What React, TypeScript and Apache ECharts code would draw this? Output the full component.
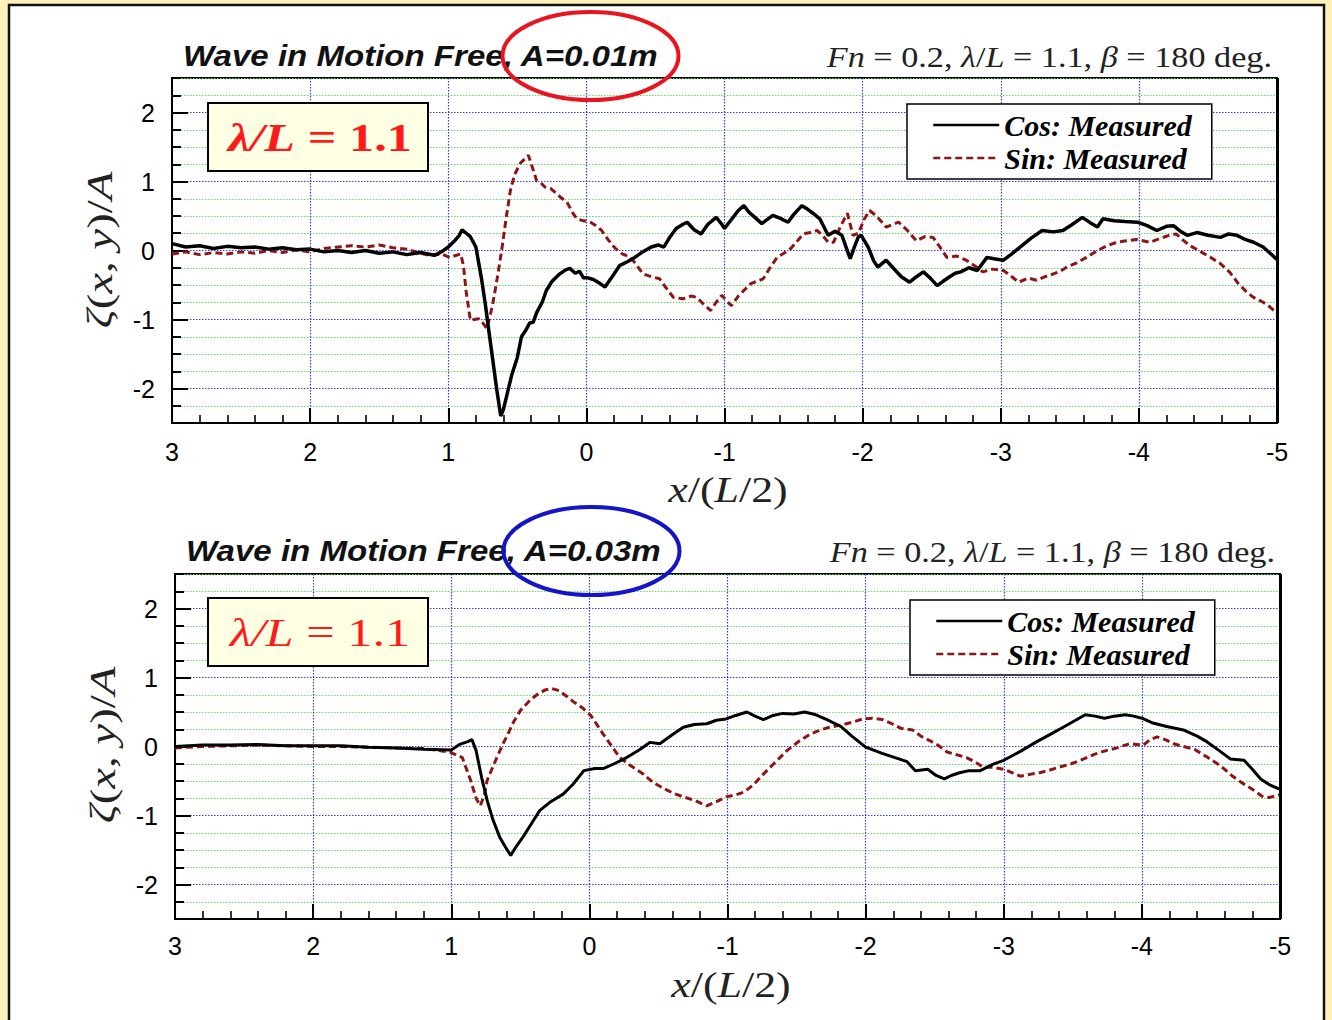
import React, { useEffect, useRef } from 'react';
import * as echarts from 'echarts';

const COS = 'Cos: Measured';
const SIN = 'Sin: Measured';

const titleTop = 'Wave in Motion Free, A=0.01m';
const titleBottom = 'Wave in Motion Free, A=0.03m';

// Top panel (A = 0.01 m): [x/(L/2), zeta/A]
const topCos: number[][] = [
  [3.0, 0.1], [2.9, 0.05], [2.8, 0.07], [2.7, 0.03], [2.6, 0.06], [2.5, 0.04], [2.4, 0.05], [2.3, 0.02],
  [2.2, 0.04], [2.1, 0.01], [2.0, 0.02], [1.9, -0.02], [1.8, 0.0], [1.7, -0.03], [1.6, 0.0], [1.5, -0.04],
  [1.4, -0.02], [1.3, -0.06], [1.2, -0.03], [1.1, -0.07], [1.05, -0.02], [1.0, 0.05], [0.95, 0.15],
  [0.92, 0.22], [0.9, 0.3], [0.87, 0.25], [0.84, 0.2], [0.8, 0.05], [0.76, -0.4], [0.73, -0.8],
  [0.71, -1.11], [0.68, -1.55], [0.65, -2.0], [0.62, -2.4], [0.6, -2.3], [0.57, -2.05], [0.54, -1.8],
  [0.5, -1.55], [0.47, -1.25], [0.44, -1.16], [0.41, -1.05], [0.385, -1.04], [0.36, -0.9], [0.32, -0.75],
  [0.29, -0.58], [0.25, -0.45], [0.2, -0.35], [0.15, -0.28], [0.12, -0.26], [0.08, -0.33], [0.05, -0.3],
  [0.02, -0.4], [0.0, -0.39], [-0.05, -0.42], [-0.1, -0.48], [-0.135, -0.53], [-0.18, -0.4], [-0.24, -0.22],
  [-0.3, -0.16], [-0.35, -0.1], [-0.4, -0.03], [-0.47, 0.05], [-0.52, 0.08], [-0.56, 0.05], [-0.6, 0.18],
  [-0.65, 0.32], [-0.7, 0.38], [-0.73, 0.41], [-0.78, 0.3], [-0.83, 0.24], [-0.88, 0.38], [-0.94, 0.48],
  [-0.98, 0.38], [-1.0, 0.32], [-1.05, 0.45], [-1.1, 0.58], [-1.14, 0.65], [-1.18, 0.55], [-1.22, 0.48],
  [-1.27, 0.39], [-1.31, 0.45], [-1.35, 0.51], [-1.4, 0.47], [-1.46, 0.41], [-1.5, 0.52], [-1.56, 0.65],
  [-1.6, 0.6], [-1.64, 0.54], [-1.69, 0.46], [-1.75, 0.22], [-1.8, 0.28], [-1.85, 0.22], [-1.88, 0.05],
  [-1.91, -0.12], [-1.94, 0.05], [-1.97, 0.2], [-1.99, 0.22], [-2.04, 0.05], [-2.08, -0.15], [-2.11, -0.24],
  [-2.17, -0.14], [-2.22, -0.25], [-2.28, -0.38], [-2.34, -0.46], [-2.39, -0.38], [-2.44, -0.31],
  [-2.49, -0.4], [-2.54, -0.51], [-2.58, -0.45], [-2.63, -0.38], [-2.67, -0.33], [-2.71, -0.31],
  [-2.77, -0.25], [-2.83, -0.29], [-2.9, -0.1], [-2.95, -0.12], [-3.02, -0.14], [-3.08, -0.05], [-3.14, 0.05],
  [-3.22, 0.18], [-3.3, 0.29], [-3.38, 0.27], [-3.45, 0.29], [-3.52, 0.38], [-3.59, 0.48], [-3.65, 0.4],
  [-3.7, 0.34], [-3.74, 0.46], [-3.82, 0.43], [-3.9, 0.42], [-3.99, 0.41], [-4.06, 0.36], [-4.13, 0.29],
  [-4.2, 0.35], [-4.25, 0.36], [-4.3, 0.28], [-4.35, 0.22], [-4.42, 0.26], [-4.5, 0.22], [-4.59, 0.19],
  [-4.65, 0.24], [-4.71, 0.22], [-4.77, 0.16], [-4.83, 0.12], [-4.9, 0.05], [-4.95, -0.04], [-5.0, -0.13],
];

const topSin: number[][] = [
  [3.0, -0.05], [2.9, -0.02], [2.8, -0.06], [2.7, -0.03], [2.6, -0.05], [2.5, -0.02], [2.4, -0.04],
  [2.3, 0.0], [2.2, -0.03], [2.1, 0.01], [2.0, -0.02], [1.9, 0.03], [1.8, 0.05], [1.7, 0.07], [1.6, 0.05],
  [1.5, 0.08], [1.4, 0.04], [1.3, 0.02], [1.2, -0.04], [1.13, -0.07], [1.05, -0.05], [0.99, -0.1],
  [0.91, -0.05], [0.89, -0.22], [0.87, -0.6], [0.84, -1.01], [0.78, -0.99], [0.75, -1.05], [0.72, -1.13],
  [0.68, -0.8], [0.64, -0.34], [0.61, 0.05], [0.58, 0.48], [0.55, 0.87], [0.52, 1.1], [0.48, 1.26],
  [0.45, 1.32], [0.42, 1.38], [0.39, 1.2], [0.36, 1.01], [0.33, 0.98], [0.3, 0.92], [0.26, 0.9],
  [0.23, 0.85], [0.18, 0.76], [0.14, 0.7], [0.1, 0.55], [0.07, 0.46], [0.02, 0.43], [-0.03, 0.41],
  [-0.07, 0.36], [-0.11, 0.29], [-0.16, 0.15], [-0.21, 0.03], [-0.26, -0.05], [-0.32, -0.1], [-0.36, -0.2],
  [-0.41, -0.34], [-0.47, -0.38], [-0.53, -0.41], [-0.58, -0.55], [-0.63, -0.68], [-0.7, -0.7],
  [-0.76, -0.66], [-0.8, -0.68], [-0.85, -0.78], [-0.9, -0.87], [-0.94, -0.75], [-0.98, -0.65],
  [-1.02, -0.74], [-1.05, -0.8], [-1.1, -0.66], [-1.15, -0.56], [-1.19, -0.48], [-1.23, -0.45],
  [-1.28, -0.41], [-1.33, -0.25], [-1.38, -0.1], [-1.43, -0.04], [-1.48, 0.03], [-1.52, 0.12],
  [-1.57, 0.24], [-1.62, 0.26], [-1.67, 0.29], [-1.71, 0.22], [-1.75, 0.12], [-1.79, 0.12], [-1.84, 0.35],
  [-1.89, 0.54], [-1.93, 0.22], [-1.97, 0.25], [-2.01, 0.45], [-2.05, 0.58], [-2.1, 0.5], [-2.17, 0.34],
  [-2.22, 0.38], [-2.26, 0.41], [-2.32, 0.3], [-2.39, 0.14], [-2.45, 0.2], [-2.51, 0.19], [-2.56, 0.05],
  [-2.61, -0.1], [-2.68, -0.08], [-2.75, -0.14], [-2.81, -0.22], [-2.87, -0.31], [-2.94, -0.27],
  [-3.02, -0.29], [-3.08, -0.38], [-3.13, -0.46], [-3.2, -0.4], [-3.26, -0.43], [-3.32, -0.38],
  [-3.38, -0.34], [-3.43, -0.3], [-3.48, -0.24], [-3.55, -0.18], [-3.62, -0.1], [-3.7, 0.0], [-3.77, 0.07],
  [-3.84, 0.12], [-3.91, 0.14], [-3.98, 0.16], [-4.08, 0.12], [-4.16, 0.18], [-4.22, 0.22], [-4.27, 0.24],
  [-4.32, 0.15], [-4.37, 0.07], [-4.45, -0.02], [-4.52, -0.1], [-4.59, -0.19], [-4.66, -0.32],
  [-4.72, -0.48], [-4.78, -0.6], [-4.83, -0.68], [-4.9, -0.75], [-4.95, -0.82], [-5.0, -0.91],
];

// Bottom panel (A = 0.03 m)
const bottomCos: number[][] = [
  [3.0, 0.0], [2.8, 0.02], [2.6, 0.02], [2.4, 0.03], [2.2, 0.01], [2.0, 0.01], [1.8, 0.01], [1.6, -0.01],
  [1.4, -0.02], [1.2, -0.04], [1.0, -0.05], [0.94, 0.03], [0.88, 0.07], [0.85, 0.1], [0.82, -0.06],
  [0.78, -0.45], [0.74, -0.78], [0.7, -1.05], [0.65, -1.31], [0.61, -1.45], [0.57, -1.58], [0.53, -1.45],
  [0.48, -1.31], [0.42, -1.12], [0.36, -0.93], [0.28, -0.8], [0.19, -0.69], [0.12, -0.55], [0.04, -0.35],
  [-0.04, -0.32], [-0.1, -0.32], [-0.18, -0.25], [-0.27, -0.16], [-0.36, -0.05], [-0.44, 0.06],
  [-0.51, 0.04], [-0.6, 0.17], [-0.68, 0.28], [-0.76, 0.32], [-0.85, 0.33], [-0.92, 0.38], [-0.99, 0.4],
  [-1.06, 0.45], [-1.14, 0.5], [-1.2, 0.44], [-1.26, 0.39], [-1.33, 0.45], [-1.4, 0.48], [-1.48, 0.47],
  [-1.56, 0.5], [-1.64, 0.46], [-1.72, 0.39], [-1.82, 0.29], [-1.9, 0.15], [-2.0, -0.01], [-2.12, -0.1],
  [-2.24, -0.18], [-2.3, -0.22], [-2.36, -0.35], [-2.45, -0.33], [-2.51, -0.42], [-2.57, -0.47],
  [-2.62, -0.42], [-2.68, -0.38], [-2.75, -0.35], [-2.83, -0.35], [-2.92, -0.26], [-3.0, -0.2],
  [-3.12, -0.07], [-3.24, 0.07], [-3.34, 0.18], [-3.44, 0.29], [-3.52, 0.38], [-3.59, 0.46], [-3.66, 0.44],
  [-3.73, 0.41], [-3.8, 0.44], [-3.88, 0.46], [-3.94, 0.44], [-4.0, 0.41], [-4.08, 0.34], [-4.18, 0.29],
  [-4.3, 0.24], [-4.4, 0.15], [-4.47, 0.07], [-4.56, -0.06], [-4.64, -0.18], [-4.74, -0.2], [-4.8, -0.33],
  [-4.86, -0.47], [-4.93, -0.56], [-5.0, -0.62],
];

const bottomSin: number[][] = [
  [3.0, -0.02], [2.8, 0.0], [2.6, 0.01], [2.4, 0.02], [2.2, 0.01], [2.0, 0.0], [1.8, 0.0], [1.6, -0.01],
  [1.4, -0.02], [1.2, -0.03], [1.01, -0.08], [0.92, -0.16], [0.86, -0.49], [0.82, -0.75], [0.79, -0.86],
  [0.76, -0.7], [0.74, -0.49], [0.7, -0.3], [0.67, -0.16], [0.63, 0.02], [0.59, 0.18], [0.55, 0.35],
  [0.5, 0.52], [0.43, 0.67], [0.38, 0.75], [0.32, 0.82], [0.27, 0.84], [0.22, 0.81], [0.16, 0.72],
  [0.11, 0.64], [0.05, 0.56], [-0.01, 0.45], [-0.1, 0.18], [-0.16, 0.01], [-0.22, -0.16], [-0.3, -0.28],
  [-0.39, -0.4], [-0.46, -0.52], [-0.54, -0.61], [-0.61, -0.68], [-0.68, -0.73], [-0.76, -0.78],
  [-0.85, -0.86], [-0.92, -0.8], [-0.99, -0.73], [-1.06, -0.7], [-1.12, -0.66], [-1.19, -0.55],
  [-1.26, -0.4], [-1.34, -0.24], [-1.43, -0.06], [-1.52, 0.08], [-1.6, 0.18], [-1.67, 0.24], [-1.74, 0.28],
  [-1.82, 0.31], [-1.9, 0.35], [-1.98, 0.4], [-2.05, 0.41], [-2.12, 0.39], [-2.19, 0.33], [-2.26, 0.26],
  [-2.34, 0.24], [-2.4, 0.15], [-2.46, 0.09], [-2.53, 0.01], [-2.59, -0.08], [-2.66, -0.12], [-2.73, -0.16],
  [-2.79, -0.22], [-2.85, -0.3], [-2.92, -0.3], [-3.0, -0.33], [-3.06, -0.38], [-3.12, -0.43], [-3.2, -0.4],
  [-3.26, -0.38], [-3.32, -0.35], [-3.4, -0.3], [-3.49, -0.25], [-3.58, -0.18], [-3.66, -0.11],
  [-3.74, -0.06], [-3.82, -0.02], [-3.91, 0.04], [-3.96, 0.03], [-4.01, 0.02], [-4.06, 0.1], [-4.11, 0.14],
  [-4.17, 0.1], [-4.23, 0.04], [-4.3, 0.0], [-4.38, -0.04], [-4.47, -0.15], [-4.57, -0.28], [-4.65, -0.42],
  [-4.72, -0.52], [-4.8, -0.62], [-4.87, -0.72], [-4.92, -0.74], [-5.0, -0.7],
];

const GREEN = '#62d862';
const BLUE = '#3a3ae6';
const RED = '#8e1515';
const SERIF = 'Liberation Serif';
const SANS = 'Liberation Sans';

function xMain(gridIndex: number, margin: number) {
  return {
    type: 'value', gridIndex, min: -5, max: 3, interval: 1, inverse: true,
    axisLine: { show: true, onZero: false, lineStyle: { color: '#000', width: 2 } },
    axisTick: { show: true, inside: true, length: 15, lineStyle: { color: '#000', width: 2 } },
    minorTick: { show: true, splitNumber: 5, length: 8, lineStyle: { color: '#000', width: 1.6 } },
    axisLabel: { color: '#000', fontSize: 25, fontFamily: SANS, margin },
    splitLine: { show: true, lineStyle: { color: BLUE, type: [1.5, 1.5], width: 1.2 } },
  };
}
function xOverlay(gridIndex: number) {
  return { type: 'value', gridIndex, min: -5, max: 3, inverse: true, show: false };
}
function yMain(gridIndex: number) {
  return {
    type: 'value', gridIndex, min: -2.5, max: 2.5, interval: 0.25,
    axisLine: { show: true, onZero: false, lineStyle: { color: '#000', width: 2 } },
    axisTick: { show: true, inside: true, length: 9, lineStyle: { color: '#000', width: 2 } },
    axisLabel: { show: false },
    splitLine: { show: true, lineStyle: { color: [GREEN, GREEN, 'rgba(0,0,0,0)', GREEN], type: [1.5, 1.5], width: 1.2 } },
  };
}
function yOverlay(gridIndex: number) {
  return {
    type: 'value', gridIndex, min: -2, max: 2, interval: 1,
    axisLine: { show: false, onZero: false },
    axisTick: { show: true, inside: true, length: 16, lineStyle: { color: '#000', width: 2 } },
    axisLabel: { color: '#000', fontSize: 25, fontFamily: SANS, margin: 17 },
    splitLine: { show: true, lineStyle: { color: BLUE, type: [1.5, 1.5], width: 1.2 } },
  };
}

function lineSeries(name: string, xi: number, data: number[][], dashed: boolean, width: number) {
  return {
    name, type: 'line', xAxisIndex: xi, yAxisIndex: xi, data,
    symbol: 'none', showSymbol: false, clip: true, z: dashed ? 2 : 3,
    lineStyle: dashed ? { color: RED, width, type: [7, 4] } : { color: '#000', width },
    itemStyle: { color: dashed ? RED : '#000' },
  };
}

function legendAt(left: number, top: number) {
  return {
    data: [COS, SIN], orient: 'vertical', left, top, itemWidth: 66, itemHeight: 14, itemGap: 3,
    padding: [6, 20, 6, 25], backgroundColor: '#fff', borderColor: '#000', borderWidth: 1.5,
    selectedMode: false, z: 6,
    itemStyle: { opacity: 0 },
    lineStyle: { width: 2.5 },
    textStyle: { fontFamily: SERIF, fontStyle: 'italic', fontWeight: 'bold', fontSize: 30, color: '#000', lineHeight: 30 },
  };
}

const serifRich = (size: number, color: string, weight: string) => ({
  i: { fontFamily: SERIF, fontStyle: 'italic', fontWeight: weight, fontSize: size, fill: color, color },
  n: { fontFamily: SERIF, fontStyle: 'normal', fontWeight: weight, fontSize: size, fill: color, color },
});

function panelTexts(dy: number, title: string, boldLambda: boolean, ellipseColor: string, dx: number, plotRight: number, plotTop: number) {
  return [
    {
      type: 'text', x: 183 + dx, y: 56 + dy, scaleX: 1.14, z: 10,
      style: { text: title, fontFamily: SANS, fontStyle: 'italic', fontWeight: 'bold', fontSize: 29, fill: '#111', align: 'left', verticalAlign: 'middle' },
    },
    {
      type: 'ellipse', z: 20, shape: { cx: 590.5 + dx / 3, cy: 56 + dy, rx: 88, ry: 44 },
      style: { fill: 'none', stroke: ellipseColor, lineWidth: 4 },
    },
    {
      type: 'text', x: 1272 + dx, y: 57 + dy, scaleX: 1.18, z: 10,
      style: {
        text: '{i|Fn}{n| = 0.2, }{i|λ}{n|/}{i|L}{n| = 1.1, }{i|β}{n| = 180 deg.}',
        rich: serifRich(29, '#222', 'normal'), align: 'right', verticalAlign: 'middle',
      },
    },
    {
      type: 'rect', z: 10, shape: { x: 208, y: 103 + dy, width: 220, height: 68 },
      style: { fill: '#FFFFE4', stroke: '#000', lineWidth: 2 },
    },
    {
      type: 'text', x: 320, y: 137 + dy, scaleX: 1.26, z: 11,
      style: {
        text: '{i|λ/L}{n| = 1.1}', rich: serifRich(40, '#FF1A1A', boldLambda ? 'bold' : 'normal'),
        align: 'center', verticalAlign: 'middle',
      },
    },
    {
      type: 'text', x: 728 + dx, y: 490 + dy, scaleX: 1.22, z: 10,
      style: { text: '{i|x}{n|/(}{i|L}{n|/2)}', rich: serifRich(36, '#222', 'normal'), align: 'center', verticalAlign: 'middle' },
    },
    {
      type: 'text', x: 100 + dx, y: 250 + dy, rotation: Math.PI / 2, scaleX: 1.3, z: 10,
      style: { text: '{i|ζ}{n|(}{i|x}{n|, }{i|y}{n|)/}{i|A}', rich: serifRich(36, '#222', 'normal'), align: 'center', verticalAlign: 'middle' },
    },
    {
      type: 'line', z: 10, shape: { x1: plotRight, y1: plotTop, x2: plotRight, y2: plotTop + 345 },
      style: { stroke: '#000', lineWidth: 3 },
    },
  ];
}

const option: any = {
  animation: false,
  backgroundColor: '#FEF1BA',
  grid: [
    { left: 172, top: 78, width: 1105, height: 345, show: true, borderColor: '#000', borderWidth: 2, backgroundColor: 'rgba(0,0,0,0)' },
    { left: 172, top: 112.5, width: 1105, height: 276 },
    { left: 175, top: 574, width: 1105, height: 345, show: true, borderColor: '#000', borderWidth: 2, backgroundColor: 'rgba(0,0,0,0)' },
    { left: 175, top: 608.5, width: 1105, height: 276 },
  ],
  xAxis: [xMain(0, 16), xOverlay(1), xMain(2, 14), xOverlay(3)],
  yAxis: [yMain(0), yOverlay(1), yMain(2), yOverlay(3)],
  legend: [legendAt(907, 104), legendAt(910, 600)],
  series: [
    lineSeries(SIN, 0, topSin, true, 3),
    lineSeries(COS, 0, topCos, false, 3.5),
    lineSeries(SIN, 2, bottomSin, true, 3),
    lineSeries(COS, 2, bottomCos, false, 3),
  ],
  graphic: {
    elements: [
      {
        type: 'rect', z: -10, shape: { x: 9, y: 5, width: 1315, height: 1030 },
        style: { fill: '#fff', stroke: '#111', lineWidth: 2.5 },
      },
      ...panelTexts(0, titleTop, true, '#E8141E', 0, 1277.5, 78),
      ...panelTexts(495, titleBottom, false, '#1414C8', 3, 1280.5, 574),
    ],
  },
};

export default function App() {
  const ref = useRef<HTMLDivElement>(null);
  useEffect(() => {
    document.body.style.margin = '0';
    const chart = echarts.init(ref.current as HTMLDivElement, undefined, { renderer: 'svg' });
    chart.setOption(option);
    return () => chart.dispose();
  }, []);
  return <div ref={ref} style={{ position: 'absolute', left: 0, top: 0, width: 1332, height: 1020 }} />;
}
